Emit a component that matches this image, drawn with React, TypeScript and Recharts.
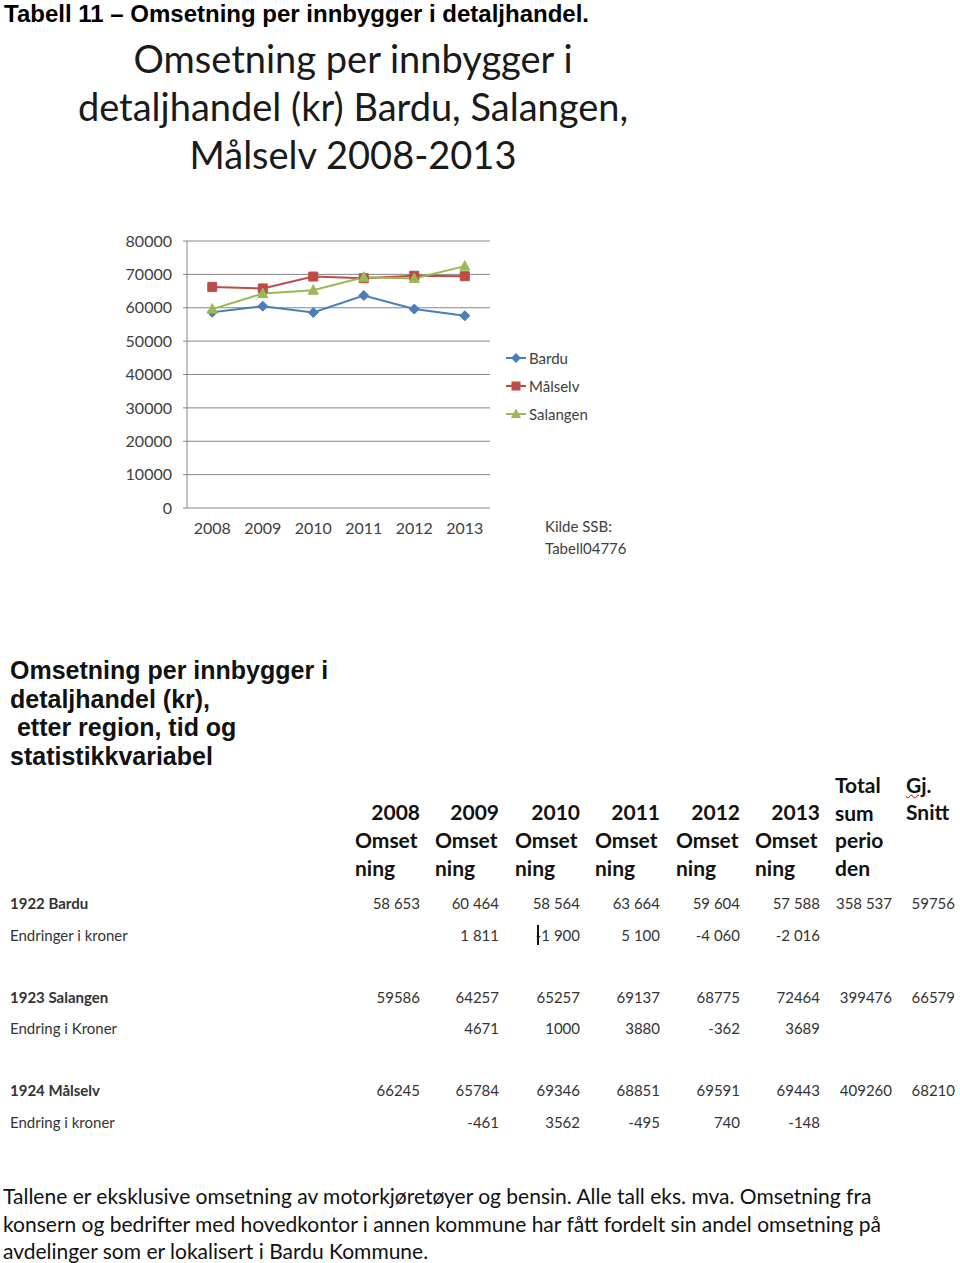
import React from 'react';
import {
  LineChart,
  Line,
  XAxis,
  YAxis,
  CartesianGrid,
  Legend,
} from 'recharts';

// chart data
const years = [2008, 2009, 2010, 2011, 2012, 2013];
const bardu = [58653, 60464, 58564, 63664, 59604, 57588];
const malselv = [66245, 65784, 69346, 68851, 69591, 69443];
const salangen = [59586, 64257, 65257, 69137, 68775, 72464];
const yTicks = [0, 10000, 20000, 30000, 40000, 50000, 60000, 70000, 80000];
const boundaryTicks = [2007.5, 2008.5, 2009.5, 2010.5, 2011.5, 2012.5, 2013.5];

// table rows
const barduChange = ['', '1 811', '-1 900', '5 100', '-4 060', '-2 016'];
const salangenChange = ['', '4671', '1000', '3880', '-362', '3689'];
const malselvChange = ['', '-461', '3562', '-495', '740', '-148'];
const barduTotal = ['358 537', '59756'];
const salangenTotal = ['399476', '66579'];
const malselvTotal = ['409260', '68210'];

const series = [
  { key: 'bardu', name: 'Bardu', color: '#4A7EBB', shape: 'diamond' },
  { key: 'malselv', name: 'Målselv', color: '#BE4B48', shape: 'square' },
  { key: 'salangen', name: 'Salangen', color: '#98B954', shape: 'triangle' },
];

const chartData = years.map((y, i) => ({
  year: y,
  bardu: bardu[i],
  malselv: malselv[i],
  salangen: salangen[i],
}));

const grey = '#868686';
const axisText = '#404040';

function markerPath(shape: string, cx: number, cy: number) {
  if (shape === 'diamond') return `M${cx},${cy - 5}L${cx + 5},${cy}L${cx},${cy + 5}L${cx - 5},${cy}Z`;
  if (shape === 'square') return `M${cx - 4.5},${cy - 4.5}h9v9h-9Z`;
  return `M${cx},${cy - 5.5}L${cx + 5},${cy + 4}L${cx - 5},${cy + 4}Z`;
}

function makeDot(shape: string, color: string) {
  return (props: any) => {
    const { cx, cy, index } = props;
    if (cx == null || cy == null) return <g key={index} />;
    return <path key={`${shape}-${index}`} d={markerPath(shape, cx, cy)} fill={color} stroke={color} />;
  };
}

function renderLegend() {
  return (
    <div>
      {series.map((s) => (
        <div key={s.key} style={{ display: 'flex', alignItems: 'center', height: 28 }}>
          <svg width={24} height={14}>
            <line x1={1} y1={7} x2={21} y2={7} stroke={s.color} strokeWidth={2} />
            <path d={markerPath(s.shape, 11, 7)} fill={s.color} />
          </svg>
          <span style={{ fontSize: 15, color: axisText, fontFamily: 'Lato' }}>{s.name}</span>
        </div>
      ))}
    </div>
  );
}

function T({ x, y, children, style, right }: any) {
  const pos: any = right != null ? { right: 960 - right } : { left: x };
  return (
    <div
      style={{
        position: 'absolute',
        top: y,
        transform: 'translateY(-50%)',
        whiteSpace: 'pre',
        lineHeight: '24px',
        ...pos,
        ...style,
      }}
    >
      {children}
    </div>
  );
}

const colLeft = [355, 435, 515, 595, 676, 755];
const colRight = [420, 499, 580, 660, 740, 820];
const totRight = [892, 955];

const cellStyle = { fontSize: 15, color: '#333', fontFamily: 'Lato' };
const labelStyle = { fontSize: 15, color: '#333', fontFamily: 'Lato' };
const headStyle = { fontSize: 21, fontWeight: 700, color: '#111', fontFamily: 'Lato' };

function ValueRow({ y, label, bold, values, totals }: any) {
  return (
    <>
      <T x={10} y={y} style={{ ...labelStyle, fontWeight: bold ? 700 : 400 }}>{label}</T>
      {values.map((v: string, i: number) => (
        <T key={i} right={colRight[i]} y={y} style={cellStyle}>{v}</T>
      ))}
      {totals &&
        totals.map((v: string, i: number) => (
          <T key={'t' + i} right={totRight[i]} y={y} style={cellStyle}>{v}</T>
        ))}
    </>
  );
}

const fmt = (n: number) => String(n).replace(/(\d)(?=(\d{3})+$)/g, '$1 ');

export default function App() {
  return (
    <div style={{ position: 'relative', width: 960, height: 1263, background: '#fff', overflow: 'hidden', fontFamily: 'Lato' }}>
      <style>{`body{margin:0}`}</style>

      <T x={4} y={14} style={{ fontFamily: 'Liberation Sans', fontWeight: 700, fontSize: 24, color: '#000' }}>
        Tabell 11 – Omsetning per innbygger i detaljhandel.
      </T>

      {/* chart */}
      <div style={{ position: 'absolute', left: 0, top: 0 }}>
        <LineChart width={960} height={600} data={chartData} margin={{ top: 241, left: 127, right: 470, bottom: 62 }}>
          <CartesianGrid vertical={false} stroke={grey} strokeWidth={1} />
          <XAxis
            xAxisId="b"
            type="number"
            domain={[2007.5, 2013.5]}
            ticks={boundaryTicks}
            tick={false}
            tickSize={5}
            height={0}
            axisLine={{ stroke: grey }}
            tickLine={{ stroke: grey }}
            allowDataOverflow
          />
          <XAxis
            dataKey="year"
            type="number"
            domain={[2007.5, 2013.5]}
            ticks={years}
            interval={0}
            axisLine={false}
            tickLine={false}
            tickSize={0}
            tickMargin={15}
            height={30}
            tick={{ fill: axisText, fontSize: 16, fontFamily: 'Lato' }}
            allowDataOverflow
          />
          <YAxis
            domain={[0, 80000]}
            ticks={yTicks}
            width={60}
            tickSize={4}
            tickMargin={11}
            axisLine={{ stroke: grey }}
            tickLine={{ stroke: grey }}
            tick={{ fill: axisText, fontSize: 16, fontFamily: 'Lato' }}
          />
          <Legend
            layout="vertical"
            verticalAlign="middle"
            align="center"
            wrapperStyle={{ left: 505, top: 344, width: 140, right: 'auto', bottom: 'auto' }}
            content={renderLegend}
          />
          {series.map((s) => (
            <Line
              key={s.key}
              dataKey={s.key}
              name={s.name}
              type="linear"
              stroke={s.color}
              strokeWidth={2}
              dot={makeDot(s.shape, s.color)}
              activeDot={false}
              isAnimationActive={false}
            />
          ))}
        </LineChart>
      </div>

      {/* chart title */}
      {['Omsetning per innbygger i', 'detaljhandel (kr) Bardu, Salangen,', 'Målselv 2008-2013'].map((l, i) => (
        <div
          key={i}
          style={{
            position: 'absolute',
            left: 0,
            width: 706,
            textAlign: 'center',
            top: 58 + i * 48,
            transform: 'translateY(-50%)',
            fontSize: 38,
            lineHeight: '44px',
            color: '#1a1a1a',
            whiteSpace: 'pre',
          }}
        >
          {l}
        </div>
      ))}

      <T x={545} y={526} style={{ fontSize: 15, color: axisText }}>Kilde SSB:</T>
      <T x={545} y={548} style={{ fontSize: 15, color: axisText }}>Tabell04776</T>

      {/* table heading */}
      {['Omsetning per innbygger i', 'detaljhandel (kr),', ' etter region, tid og', 'statistikkvariabel'].map((l, i) => (
        <T key={i} x={10} y={670 + i * 28.5} style={{ fontFamily: 'Liberation Sans', fontWeight: 700, fontSize: 25, color: '#111' }}>
          {l}
        </T>
      ))}

      {/* column headers */}
      {years.map((y, i) => (
        <React.Fragment key={y}>
          <T right={colRight[i]} y={812} style={headStyle}>{String(y)}</T>
          <T x={colLeft[i]} y={840} style={headStyle}>Omset</T>
          <T x={colLeft[i]} y={868} style={headStyle}>ning</T>
        </React.Fragment>
      ))}
      {['Total', 'sum', 'perio', 'den'].map((w, i) => (
        <T key={w} x={835} y={785 + i * 27.7} style={headStyle}>{w}</T>
      ))}
      <T x={906} y={785} style={headStyle}>
        <span style={{ textDecoration: 'underline wavy #d00', textDecorationThickness: 1 }}>Gj</span>.
      </T>
      <T x={906} y={812} style={headStyle}>Snitt</T>

      <ValueRow y={903} label="1922 Bardu" bold values={bardu.map(fmt)} totals={barduTotal} />
      <ValueRow y={935} label="Endringer i kroner" values={barduChange} />
      <div style={{ position: 'absolute', left: 537, top: 925, width: 2, height: 20, background: '#111' }} />
      <ValueRow y={997} label="1923 Salangen" bold values={salangen.map(String)} totals={salangenTotal} />
      <ValueRow y={1028} label="Endring i Kroner" values={salangenChange} />
      <ValueRow y={1090} label="1924 Målselv" bold values={malselv.map(String)} totals={malselvTotal} />
      <ValueRow y={1122} label="Endring i kroner" values={malselvChange} />

      {/* footnote */}
      {[
        'Tallene er eksklusive omsetning av motorkjøretøyer og bensin. Alle tall eks. mva. Omsetning fra',
        'konsern og bedrifter med hovedkontor i annen kommune har fått fordelt sin andel omsetning på',
        'avdelinger som er lokalisert i Bardu Kommune.',
      ].map((l, i) => (
        <T key={i} x={3} y={1196 + i * 27.5} style={{ fontSize: 21, color: '#111' }}>{l}</T>
      ))}
    </div>
  );
}
